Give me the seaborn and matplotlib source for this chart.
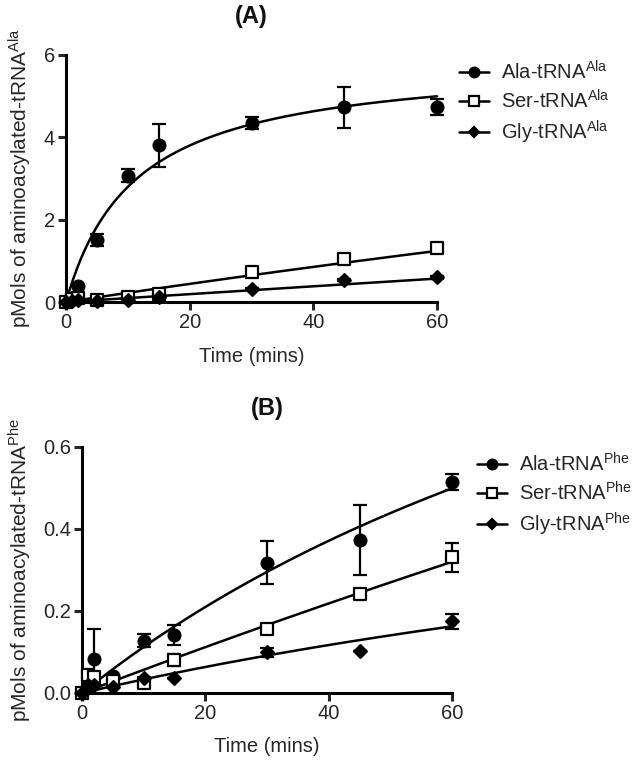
import numpy as np
import pandas as pd
import matplotlib
matplotlib.use("Agg")
import matplotlib.pyplot as plt
import seaborn as sns

sns.set_theme(style="ticks")
plt.rcParams['font.family'] = ['Liberation Sans', 'DejaVu Sans']
plt.rcParams['mathtext.fontset'] = 'custom'
plt.rcParams['mathtext.rm'] = 'Liberation Sans'
plt.rcParams['mathtext.it'] = 'Liberation Sans'

# ---- data ----
time = [0, 1, 2, 5, 10, 15, 30, 45, 60]

# Panel A (tRNA-Ala)
a_ala = [0.0, 0.08, 0.38, 1.50, 3.07, 3.81, 4.35, 4.73, 4.74]
a_ala_err = [0.0, 0.0, 0.0, 0.15, 0.15, 0.52, 0.15, 0.50, 0.20]
a_ser = [0.0, 0.08, 0.10, 0.06, 0.12, 0.20, 0.73, 1.05, 1.30]
a_ser_err = [0.0, 0.0, 0.0, 0.0, 0.0, 0.0, 0.05, 0.05, 0.06]
a_gly = [0.0, 0.03, 0.04, 0.02, 0.05, 0.12, 0.31, 0.53, 0.60]
a_gly_err = [0.0, 0.0, 0.0, 0.0, 0.0, 0.0, 0.03, 0.03, 0.04]

# Panel B (tRNA-Phe)
b_ala = [0.0, 0.03, 0.083, 0.042, 0.128, 0.142, 0.318, 0.373, 0.515]
b_ala_err = [0.0, 0.0, 0.073, 0.0, 0.015, 0.025, 0.052, 0.085, 0.02]
b_ser = [0.0, 0.045, 0.04, 0.03, 0.024, 0.081, 0.156, 0.242, 0.331]
b_ser_err = [0.0, 0.01, 0.0, 0.0, 0.0, 0.015, 0.004, 0.01, 0.035]
b_gly = [0.0, 0.02, 0.02, 0.015, 0.036, 0.037, 0.099, 0.103, 0.175]
b_gly_err = [0.0, 0.0, 0.0, 0.0, 0.0, 0.0, 0.01, 0.0, 0.018]

# fitted hyperbola parameters (Bmax, K) for each curve
fit_a = {"Ala": (5.93, 11.2), "Ser": (13.8, 607.0), "Gly": (48.0, 5000.0)}
fit_b = {"Ala": (1.61, 133.5), "Ser": (4.57, 797.0), "Gly": (0.74, 213.0)}

series_names = ["Ala", "Ser", "Gly"]
markers = {"Ala": "o", "Ser": "s", "Gly": "D"}
mfc = {"Ala": "black", "Ser": "white", "Gly": "black"}
msize = {"Ala": 8.5, "Ser": 8, "Gly": 6.5}

FS = 14.5
TXT = "#262626"

fig = plt.figure(figsize=(6.33, 7.6), dpi=100)
axA = fig.add_axes([66/633, 1-302/760, 371/633, 247/760])
axB = fig.add_axes([82/633, 1-693/760, 370/633, 246/760])


def draw(ax, vals, errs, fits, sup, ymax, yticks, yticklabels, ylabel,
         legend_anchor, ylab_x, xlab_y):
    tt = np.linspace(0, 60, 300)
    handles = []
    for name in series_names:
        bm, k = fits[name]
        dfc = pd.DataFrame({"t": tt, "y": bm * tt / (k + tt)})
        sns.lineplot(data=dfc, x="t", y="y", ax=ax, color="black", lw=1.8,
                     legend=False, clip_on=False, zorder=2)
        v = vals[name]
        e = errs[name]
        ax.errorbar(time, v, yerr=e, fmt="none", ecolor="black", elinewidth=1.6,
                    capsize=5, capthick=1.6, clip_on=False, zorder=3)
        dfp = pd.DataFrame({"t": time, "y": v})
        sns.scatterplot(data=dfp, x="t", y="y", ax=ax, marker=markers[name],
                        s=msize[name]**2, color=mfc[name], edgecolor="black",
                        linewidth=1.6, clip_on=False, zorder=4, legend=False)
        h, = ax.plot([], [], color="black", lw=1.8, marker=markers[name],
                     ms=msize[name] - 1.5, mfc=mfc[name], mec="black", mew=1.6)
        handles.append((h, name + r"-tRNA$^{\mathrm{" + sup + "}}$"))
    ax.set_xlim(0, 60)
    ax.set_ylim(0, ymax)
    ax.set_xticks([0, 20, 40, 60])
    ax.set_yticks(yticks)
    ax.set_yticklabels(yticklabels)
    ax.set_xlabel("Time (mins)", fontsize=FS, color=TXT)
    ax.set_ylabel(ylabel, fontsize=15, color=TXT)
    ax.yaxis.set_label_coords(ylab_x, 0.5)
    ax.xaxis.set_label_coords(0.5, xlab_y)
    for s in ["top", "right"]:
        ax.spines[s].set_visible(False)
    for s in ["left", "bottom"]:
        ax.spines[s].set_linewidth(2.2)
        ax.spines[s].set_color("black")
    ax.tick_params(axis="both", width=2.2, length=6, labelsize=FS,
                   labelcolor=TXT, pad=2)
    leg = ax.legend([h for h, _ in handles], [l for _, l in handles],
                    loc="upper left", bbox_to_anchor=legend_anchor,
                    bbox_transform=fig.transFigure, frameon=False,
                    fontsize=FS, handlelength=1.5, labelspacing=0.3,
                    handletextpad=0.6, borderaxespad=0, borderpad=0)
    for t in leg.get_texts():
        t.set_color(TXT)


draw(axA,
     {"Ala": a_ala, "Ser": a_ser, "Gly": a_gly},
     {"Ala": a_ala_err, "Ser": a_ser_err, "Gly": a_gly_err},
     fit_a, "Ala", 6, [0, 2, 4, 6], ["0", "2", "4", "6"],
     r"pMols of aminoacylated-tRNA$^{\mathrm{Ala}}$", (459/633, 1-60/760),
     -(66-34)/371, -(347-302)/247)
draw(axB,
     {"Ala": b_ala, "Ser": b_ser, "Gly": b_gly},
     {"Ala": b_ala_err, "Ser": b_ser_err, "Gly": b_gly_err},
     fit_b, "Phe", 0.6, [0, 0.2, 0.4, 0.6], ["0.0", "0.2", "0.4", "0.6"],
     r"pMols of aminoacylated-tRNA$^{\mathrm{Phe}}$", (477/633, 1-452/760),
     -(82-34)/370, -(737-693)/246)

fig.text(251/633, 1-16/760, "(A)", ha="center", va="center", fontsize=17,
         fontweight="bold", color="#111111")
fig.text(267/633, 1-408/760, "(B)", ha="center", va="center", fontsize=17,
         fontweight="bold", color="#111111")

fig.savefig("out.png", dpi=100)
